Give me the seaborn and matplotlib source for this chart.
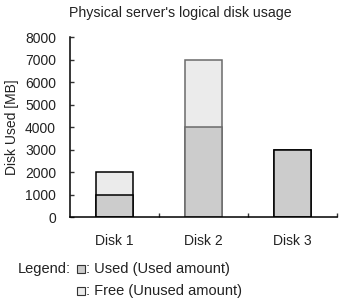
import matplotlib
matplotlib.use("Agg")
import matplotlib.pyplot as plt
import seaborn as sns
import pandas as pd
from matplotlib.patches import Rectangle

disks = ["Disk 1", "Disk 2", "Disk 3"]
used = [1000, 4000, 3000]
free = [1000, 3000, 0]
edge_colors = ["#000000", "#6a6a6a", "#000000"]

USED_COLOR = "#cccccc"
FREE_COLOR = "#ebebeb"

sns.set_theme(style="ticks")
plt.rcParams["font.family"] = ["Liberation Sans", "DejaVu Sans"]

total = [u + f for u, f in zip(used, free)]
df = pd.DataFrame({"disk": disks, "used": used, "total": total})

fig = plt.figure(figsize=(3.41, 3.01), dpi=100)
ax = fig.add_axes([0.205, 0.279, 0.783, 0.598])

sns.barplot(data=df, x="disk", y="total", color=FREE_COLOR, width=0.41,
            saturation=1, ax=ax)
sns.barplot(data=df, x="disk", y="used", color=USED_COLOR, width=0.41,
            saturation=1, ax=ax)

n = len(disks)
for i, p in enumerate(ax.patches[:2 * n]):
    p.set_edgecolor(edge_colors[i % n])
    p.set_linewidth(1.1)

ax.set_xlim(-0.5, 2.5)
ax.set_ylim(0, 8000)
ax.set_yticks(range(0, 8001, 1000))
ax.set_xticks([0, 1, 2])
ax.set_xticklabels(disks)
ax.set_xticks([0.5, 1.5, 2.5], minor=True)
ax.tick_params(axis="x", which="major", length=0, labelsize=10, pad=12, labelcolor="#222222")
ax.tick_params(axis="x", which="minor", direction="in", length=3, width=1, color="#333333")
ax.tick_params(axis="y", direction="in", length=3, width=1, labelsize=10, pad=10,
               color="#333333", labelcolor="#222222")

for s in ["top", "right"]:
    ax.spines[s].set_visible(False)
for s in ["left", "bottom"]:
    ax.spines[s].set_linewidth(1.1)
    ax.spines[s].set_color("#000000")

ax.set_xlabel("")
ax.set_ylabel("Disk Used [MB]", fontsize=10, color="#222222", labelpad=4)
fig.text(0.53, 1 - 13 / 301, "Physical server's logical disk usage", ha="center",
         va="center", fontsize=10.2, color="#222222")

# Legend text and squares
fig.text(18 / 341, 1 - 269 / 301, "Legend:", fontsize=10.5, va="center", color="#222222")
sq = 8
for (y, col, label) in [(269, USED_COLOR, ": Used (Used amount)"),
                        (291, FREE_COLOR, ": Free (Unused amount)")]:
    fig.patches.append(Rectangle((77 / 341, 1 - (y + sq / 2) / 301), sq / 341, sq / 301,
                                 transform=fig.transFigure, facecolor=col,
                                 edgecolor="#333333", linewidth=0.8))
    fig.text(86 / 341, 1 - y / 301, label, fontsize=10.5, va="center", color="#222222")

fig.savefig("out.png", dpi=100)
